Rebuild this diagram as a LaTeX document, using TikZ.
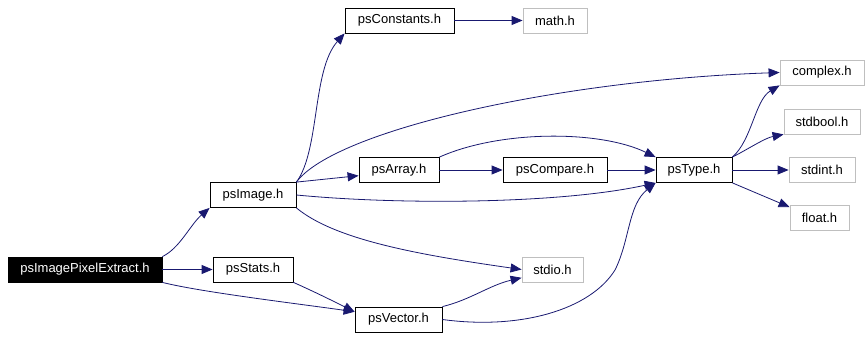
\documentclass[tikz,border=0pt]{standalone}
\usepackage{fontspec}
\setmainfont{Liberation Sans}
\usetikzlibrary{arrows.meta}
\definecolor{edgeblue}{HTML}{191970}
\definecolor{extgray}{HTML}{BFBFBF}
\begin{document}
\begin{tikzpicture}[x=1pt, y=-1pt,
    hdr/.style={draw=black, line width=0.8pt, minimum height=25pt, inner sep=0pt, font=\fontsize{13pt}{15pt}\selectfont},
    ext/.style={hdr, draw=extgray},
    root/.style={hdr, fill=black, text=white},
    dep/.style={->, >={Triangle[length=11pt, width=9pt]}, draw=edgeblue, line width=0.8pt}]
    \useasboundingbox (0,0) rectangle (868,339);

    % Các nút
    \node[root, minimum width=154pt] (pixelExtract) at (85, 269.5) {psImagePixelExtract.h};
    \node[hdr, minimum width=86pt] (psImage) at (253, 195) {psImage.h};
    \node[hdr, minimum width=80pt] (psStats) at (253, 269.5) {psStats.h};
    \node[hdr, minimum width=87pt] (psVector) at (398.5, 319.5) {psVector.h};
    \node[hdr, minimum width=109pt] (psConstants) at (399.5, 20.5) {psConstants.h};
    \node[hdr, minimum width=80pt] (psArray) at (399, 170) {psArray.h};
    \node[hdr, minimum width=104pt] (psCompare) at (555, 170) {psCompare.h};
    \node[hdr, minimum width=76pt] (psType) at (694, 170) {psType.h};

    % Tệp ngoài
    \node[ext, minimum width=64pt] (math) at (555, 20.5) {math.h};
    \node[ext, minimum width=84pt] (complex) at (822, 72.5) {complex.h};
    \node[ext, minimum width=76pt] (stdbool) at (822, 121.5) {stdbool.h};
    \node[ext, minimum width=66pt] (stdint) at (822, 170) {stdint.h};
    \node[ext, minimum width=59pt] (float) at (819.5, 218) {float.h};
    \node[ext, minimum width=61pt] (stdio) at (552.5, 269.5) {stdio.h};

    % Mũi tên từ psImagePixelExtract.h
    \draw[dep] (pixelExtract.north east) .. controls (180, 248) and (190, 225) .. (psImage.south west);
    \draw[dep] (pixelExtract.east) -- (psStats.west);
    \draw[dep] (pixelExtract.south east) .. controls (200, 292) and (300, 304) .. (psVector.170);

    % Mũi tên từ psImage.h
    \draw[dep] (psImage.north east) .. controls (320, 150) and (312, 70) .. (psConstants.south west);
    \draw[dep] (psImage.north east) .. controls (335, 130) and (560, 80) .. (complex.west);
    \draw[dep] (psImage.north east) -- (psArray.188);
    \draw[dep] (psImage.east) .. controls (400, 205) and (560, 204) .. (psType.south west);
    \draw[dep] (psImage.south east) .. controls (335, 240) and (420, 255) .. (stdio.west);

    % Mũi tên từ psStats.h, psVector.h
    \draw[dep] (psStats.south east) .. controls (315, 292) and (335, 302) .. (psVector.170);
    \draw[dep] (psVector.north east) .. controls (470, 300) and (490, 285) .. (stdio.195);
    \draw[dep] (psVector.east) .. controls (520, 330) and (590, 310) .. (615, 270)
        .. controls (630, 240) and (628, 205) .. (psType.south west);

    % Hàng giữa
    \draw[dep] (psConstants.east) -- (math.west);
    \draw[dep] (psArray.north east) .. controls (500, 130) and (600, 130) .. (psType.north west);
    \draw[dep] (psArray.east) -- (psCompare.west);
    \draw[dep] (psCompare.east) -- (psType.west);

    % Mũi tên từ psType.h
    \draw[dep] (psType.north east) .. controls (752, 140) and (755, 100) .. (complex.south west);
    \draw[dep] (psType.north east) .. controls (750, 148) and (765, 138) .. (stdbool.south west);
    \draw[dep] (psType.east) -- (stdint.west);
    \draw[dep] (psType.south east) -- (float.160);
\end{tikzpicture}
\end{document}
